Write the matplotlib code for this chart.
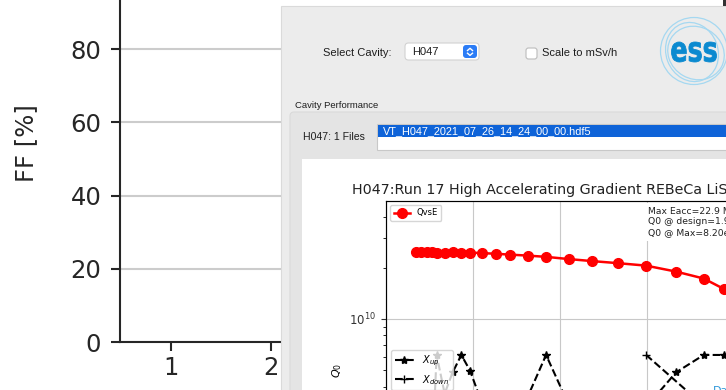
import matplotlib
matplotlib.use('Agg')
import matplotlib.pyplot as plt
from matplotlib.patches import FancyBboxPatch, Ellipse, PathPatch
from matplotlib.lines import Line2D
from matplotlib.textpath import TextPath
from matplotlib.font_manager import FontProperties
from matplotlib.transforms import IdentityTransform, Affine2D

W, H = 726, 390

# background chart (FF)
ff_categories = [1, 2, 3, 4, 5, 6]
ff_yticks = [0, 20, 40, 60, 80]

# embedded cavity plot
eacc = [1.74, 2.01, 2.34, 2.63, 2.91, 3.37, 3.83, 4.33, 4.83, 5.50, 6.30, 7.14,
        8.14, 9.20, 10.53, 11.86, 13.33, 14.95, 16.67, 18.26, 19.43, 20.6, 21.8, 22.9]
q0 = [2.47e10, 2.47e10, 2.47e10, 2.47e10, 2.46e10, 2.46e10, 2.47e10, 2.46e10,
      2.46e10, 2.44e10, 2.42e10, 2.39e10, 2.36e10, 2.32e10, 2.25e10, 2.19e10,
      2.13e10, 2.06e10, 1.90e10, 1.73e10, 1.50e10, 1.25e10, 1.02e10, 8.2e9]
x_up = [0.45, 0.45, 0.45, 0.45, 1.089, 0.86, 0.986, 1.089, 0.996, 0.808, 0.45, 0.45,
        0.841, 1.089, 0.787, 0.45, 0.45, 0.781, 0.986, 1.089, 1.089, 1.089, 1.0, 1.0]
eacc_down = [14.95, 19.0, 22.9]
x_down = [1.089, 0.722, 0.55]

fig = plt.figure(figsize=(7.26, 3.9), dpi=100)


def px_box(x0, y0, x1, y1):
    # pixel box (origin top-left) -> figure fraction rect
    return [x0 / W, 1 - y1 / H, (x1 - x0) / W, (y1 - y0) / H]


def rbox(x0, y0, x1, y1, fc, ec='none', lw=0.8, r=0, z=1):
    style = 'round,pad=0,rounding_size=%g' % r if r else 'square,pad=0'
    p = FancyBboxPatch((x0, H - y1), x1 - x0, y1 - y0, boxstyle=style,
                       fc=fc, ec=ec, lw=lw, transform=IdentityTransform(), zorder=z)
    fig.add_artist(p)


def ftext(x, y, s, **kw):
    kw.setdefault('va', 'center')
    kw.setdefault('family', 'Liberation Sans')
    kw.setdefault('color', '#1e1e1e')
    kw.setdefault('zorder', 4)
    return fig.text(x / W, 1 - y / H, s, **kw)


# ---- main FF chart ----
ax = fig.add_axes(px_box(120, -56, 726, 342))
ax.set_zorder(0)
ax.set_xlim(0.49, 6.55)
ax.set_ylim(0, 108.7)
ax.set_xticks(ff_categories)
ax.set_yticks(ff_yticks)
ax.yaxis.grid(True, color='#cccccc', lw=1.5)
ax.set_axisbelow(True)
for s in ['top', 'right']:
    ax.spines[s].set_visible(False)
for s in ['left', 'bottom']:
    ax.spines[s].set_linewidth(1.5)
    ax.spines[s].set_color('#262626')
ax.tick_params(labelsize=17.5, length=6.5, width=1.5, colors='#262626')
ax.tick_params(axis='y', pad=7)
ax.set_ylabel('FF [%]', fontsize=17.5, color='#262626', va='center')
ax.yaxis.set_label_coords(-94 / 606, 0.5)

# ---- GUI panel ----
rbox(281, 6, 760, 420, fc='#ececec', ec='#dadada', z=2)
rbox(723, -4, 730, 6, fc='#333333', z=2)

ftext(323, 53, 'Select Cavity:', fontsize=8)
rbox(405, 43, 479, 60, fc='white', ec='#d2d2d2', r=3.5, z=3)
ftext(412, 52, 'H047', fontsize=8)
rbox(463, 45, 477, 58, fc='#2b7cf6', r=3, z=4)
for pts in ([(467.5, 50.5), (470, 48.3), (472.5, 50.5)],
            [(467.5, 53.2), (470, 55.4), (472.5, 53.2)]):
    fig.add_artist(Line2D([p[0] for p in pts], [H - p[1] for p in pts], color='white',
                          lw=1.0, transform=IdentityTransform(), zorder=5))
rbox(526, 48, 537, 59, fc='white', ec='#bcbcbc', r=2.5, z=3)
ftext(542, 53.5, 'Scale to mSv/h', fontsize=8)

# ESS logo
lax = fig.add_axes(px_box(654, 12, 734, 92))
lax.set_zorder(3)
lax.set_xlim(0, 80)
lax.set_ylim(80, 0)
lax.set_aspect('equal')
lax.axis('off')
for (cx, cy, w, h, a) in [(40, 39, 67, 67, 0), (42, 41, 58, 52, 30), (38, 40, 52, 60, -20)]:
    lax.add_patch(Ellipse((cx, cy), w, h, angle=a, fill=False, ec='#a5d8f1', lw=0.9))
tp = TextPath((0, 0), 'ess', size=20, prop=FontProperties(family='DejaVu Sans', weight='bold'))
bb = tp.get_extents()
sx, sy = 45 / bb.width, 20 / bb.height
tr = (Affine2D().translate(-bb.x0 - bb.width / 2, -bb.y0 - bb.height / 2)
      .scale(sx, -sy).translate(40, 40) + lax.transData)
lax.add_patch(PathPatch(tp, fc='#0b8ad0', ec='#0b8ad0', lw=0.6, transform=tr))

ftext(295, 106, 'Cavity Performance', fontsize=6.8)
rbox(290, 112, 760, 420, fc='#e4e4e4', ec='#dadada', r=4, z=2.5)
ftext(303, 137, 'H047: 1 Files', fontsize=7.6)
rbox(377, 124, 760, 150, fc='white', ec='#c8c8c8', z=3)
rbox(378, 125, 760, 137, fc='#0e63d8', z=3.5)
ftext(383, 131, 'VT_H047_2021_07_26_14_24_00_00.hdf5', fontsize=7.8, color='white')
rbox(302, 159, 760, 420, fc='white', z=3)

# ---- embedded cavity plot ----
ftext(352, 190, 'H047:Run 17 High Accelerating Gradient REBeCa LiS', fontsize=10.3,
      family='DejaVu Sans', color='#222222')

ax1 = fig.add_axes(px_box(386, 201, 821, 539))
ax1.set_zorder(5)
ax1.set_yscale('log')
ax1.set_xlim(0, 25)
ax1.set_ylim(10 ** 8.706, 10 ** 10.694)
ax1.set_xticks([0, 5, 10, 15, 20, 25])
ax1.grid(True, which='major', color='#c8c8c8', lw=0.8)
ax1.plot(eacc, q0, 'o-', color='red', lw=1.8, ms=7, label='QvsE')
ax1.legend(loc='upper left', fontsize=6)
for s in ax1.spines.values():
    s.set_color('#555555')
ax1.tick_params(labelsize=8.5, colors='#333333')
ax1.tick_params(axis='x', labelbottom=False)
ax1.set_ylabel('$Q_0$', fontsize=8)

ax2 = ax1.twinx()
ax2.set_zorder(6)
ax2.set_ylim(0, 2)
ax2.plot(eacc, x_up, '*--', color='black', lw=1.5, ms=6, label='$X_{up}$')
ax2.plot(eacc_down, x_down, '+--', color='black', lw=1.5, ms=6, label='$X_{down}$')
ax2.tick_params(axis='y', labelright=False)
ax2.legend(loc='center left', fontsize=7)

ftext(647.5, 207, 'Max Eacc=22.9 MV/m\nQ0 @ design=1.93e+10\nQ0 @ Max=8.20e+09',
      fontsize=6.7, va='top', family='DejaVu Sans', color='#222222', zorder=8,
      bbox=dict(fc='white', ec='none', pad=3))
ftext(713, 386, 'Da', fontsize=8, va='top', family='DejaVu Sans', color='#2b95d9', zorder=8)

fig.savefig('out.png', dpi=100)
